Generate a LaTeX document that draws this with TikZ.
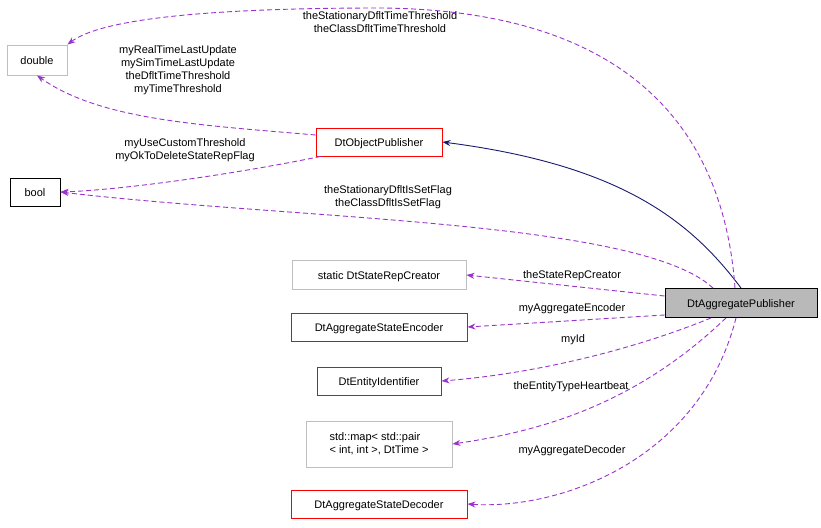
\documentclass[tikz,border=0pt]{standalone}
\usepackage{fontspec}
\setmainfont{Liberation Sans}
\usetikzlibrary{arrows.meta}
\definecolor{usecol}{HTML}{9A32CD}
\definecolor{inhcol}{HTML}{191970}
\definecolor{redbox}{HTML}{FF0000}

\begin{document}
\begin{tikzpicture}[x=1pt, y=-1pt, >={Stealth[length=8pt,width=6pt]}, font=\fontsize{11}{13}\selectfont, line width=0.9pt]
    \tikzset{
        cls/.style={draw, rectangle, inner sep=0pt, align=center, text depth=0pt, text height=8pt},
        ext/.style={cls, draw=gray!50},
        incl/.style={cls, draw=redbox},
        use/.style={->, dash pattern=on 5pt off 3pt, draw=usecol},
        lbl/.style={align=center, inner sep=0pt}
    }
    \useasboundingbox (0,0) rectangle (821,527);

    % Nodes
    \node [ext, minimum width=60, minimum height=30]          (dbl)  at (37,60)   {double};
    \node [incl, minimum width=126, minimum height=28]        (obj)  at (379,142) {DtObjectPublisher};
    \node [cls, minimum width=50, minimum height=28]          (bool) at (35,192)  {bool};
    \node [cls, fill=gray!55, minimum width=152, minimum height=29] (agg) at (741,303) {DtAggregatePublisher};
    \node [ext, minimum width=174, minimum height=29]         (rep)  at (379,275) {static DtStateRepCreator};
    \node [incl, minimum width=176, minimum height=28]        (enc)  at (379,327) {DtAggregateStateEncoder};
    \node [incl, minimum width=124, minimum height=28]        (eid)  at (379,381) {DtEntityIdentifier};
    \node [ext, minimum width=146, minimum height=46, align=left, text height=, text depth=] (map) at (379,444) {std::map\textless{} std::pair\\\textless{} int, int \textgreater{}, DtTime \textgreater{}};
    \node [incl, minimum width=176, minimum height=28]        (dec)  at (379,504) {DtAggregateStateDecoder};

    % Paths
    \draw [->, draw=inhcol] (agg.north) .. controls (690,220) and (620,165) .. (obj.east);
    \draw [use] (agg.north) ++(-6,0) .. controls (725,150) and (650,10) .. (380,8) .. controls (200,8) and (100,20) .. (dbl.north east);
    \draw [use] (obj.west) ++(0,-7) .. controls (200,125) and (100,120) .. (dbl.south);
    \draw [use] (obj.south west) ++(5,0) .. controls (230,175) and (120,190) .. (bool.east);
    \draw [use] (agg.north) ++(-28,0) .. controls (640,220) and (300,220) .. (bool.east);
    \draw [use] (agg.west) ++(0,-7) -- (rep.east);
    \draw [use] (agg.west) ++(0,12) -- (enc.east);
    \draw [use] (agg.south) ++(-30,0) .. controls (620,355) and (520,375) .. (eid.east);
    \draw [use] (agg.south) ++(-15,0) .. controls (640,400) and (550,430) .. (map.east);
    \draw [use] (agg.south) ++(-5,0) .. controls (700,460) and (560,510) .. (dec.east);

    % Labels
    \node [lbl] (l1) at (380,22)  {theStationaryDfltTimeThreshold\\theClassDfltTimeThreshold};
    \node [lbl] (l2) at (178,70)  {myRealTimeLastUpdate\\mySimTimeLastUpdate\\theDfltTimeThreshold\\myTimeThreshold};
    \node [lbl] (l3) at (185,150) {myUseCustomThreshold\\myOkToDeleteStateRepFlag};
    \node [lbl] (l4) at (388,197) {theStationaryDfltIsSetFlag\\theClassDfltIsSetFlag};
    \node [lbl] (l5) at (572,276) {theStateRepCreator};
    \node [lbl] (l6) at (572,309) {myAggregateEncoder};
    \node [lbl] (l7) at (573,340) {myId};
    \node [lbl] (l8) at (571,387) {theEntityTypeHeartbeat};
    \node [lbl] (l9) at (572,451) {myAggregateDecoder};
\end{tikzpicture}
\end{document}
